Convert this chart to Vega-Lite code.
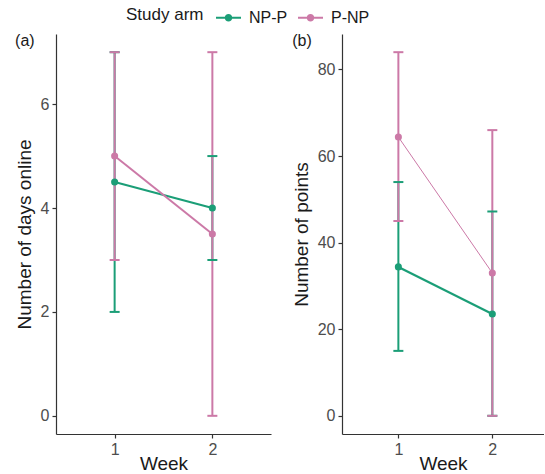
{
  "$schema": "https://vega.github.io/schema/vega-lite/v6.json",
  "background": "white",
  "padding": {"left": 15, "top": 5, "right": 0, "bottom": 0},
  "config": {
    "font": "Liberation Sans",
    "view": {"stroke": null},
    "axis": {
      "grid": false,
      "domainColor": "#333333",
      "domainWidth": 1.2,
      "tickColor": "#333333",
      "tickWidth": 1.2,
      "tickSize": 4,
      "labelColor": "#4D4D4D",
      "labelFontSize": 16,
      "labelPadding": 3,
      "titleFontSize": 19,
      "titleFontWeight": "normal",
      "titleColor": "#1A1A1A"
    }
  },
  "datasets": {
    "days": [
      {"week": 1, "arm": "NP-P", "value": 4.5, "lo": 2, "hi": 7},
      {"week": 2, "arm": "NP-P", "value": 4, "lo": 3, "hi": 5},
      {"week": 1, "arm": "P-NP", "value": 5, "lo": 3, "hi": 7},
      {"week": 2, "arm": "P-NP", "value": 3.5, "lo": 0, "hi": 7}
    ],
    "points": [
      {"week": 1, "arm": "NP-P", "value": 34.4, "lo": 15, "hi": 54},
      {"week": 2, "arm": "NP-P", "value": 23.5, "lo": 0, "hi": 47.2},
      {"week": 1, "arm": "P-NP", "value": 64.4, "lo": 45, "hi": 84},
      {"week": 2, "arm": "P-NP", "value": 33, "lo": 0, "hi": 66}
    ]
  },
  "spacing": 21,
  "hconcat": [
    {
      "width": 215,
      "height": 400,
      "data": {"name": "days"},
      "title": {"text": "(a)", "anchor": "start", "frame": "bounds", "fontSize": 16, "fontWeight": "normal", "color": "#1A1A1A", "offset": -15},
      "encoding": {
        "x": {"field": "week", "type": "quantitative", "scale": {"domain": [0.4, 2.6], "nice": false, "zero": false}, "axis": {"values": [1, 2], "format": "d", "title": "Week", "titlePadding": -3}},
        "color": {
          "field": "arm", "type": "nominal",
          "scale": {"domain": ["NP-P", "P-NP"], "range": ["#1B9E77", "#CC79A7"]},
          "legend": {
            "title": "Study arm",
            "orient": "none",
            "legendX": 70,
            "legendY": -29,
            "direction": "horizontal",
            "titleOrient": "left",
            "titleFontSize": 17,
            "titleFontWeight": "normal",
            "titleColor": "#1A1A1A",
            "titlePadding": 12,
            "labelFontSize": 16,
            "labelColor": "#1A1A1A",
            "labelOffset": 8,
            "columnPadding": 10,
            "symbolType": "M-1,-0.08H1V0.08H-1Z M0.3,0A0.3,0.3,0,1,1,-0.3,0A0.3,0.3,0,1,1,0.3,0Z",
            "symbolSize": 625,
            "symbolStrokeWidth": 0,
            "encode": {"symbols": {"update": {"fill": {"scale": "color", "field": "value"}, "fillOpacity": {"value": 1}, "strokeWidth": {"value": 0}}}}
          }
        }
      },
      "layer": [
        {"mark": {"type": "rule", "strokeWidth": 2},
         "encoding": {"y": {"field": "lo", "type": "quantitative", "scale": {"domain": [-0.35, 7.35], "nice": false, "zero": false}, "axis": {"values": [0, 2, 4, 6], "title": "Number of days online", "titlePadding": 6}}, "y2": {"field": "hi"}}},
        {"mark": {"type": "tick", "orient": "horizontal", "size": 10, "thickness": 2, "opacity": 1},
         "encoding": {"y": {"field": "lo", "type": "quantitative", "title": "Number of days online"}}},
        {"mark": {"type": "tick", "orient": "horizontal", "size": 10, "thickness": 2, "opacity": 1},
         "encoding": {"y": {"field": "hi", "type": "quantitative", "title": "Number of days online"}}},
        {"mark": {"type": "line", "strokeWidth": 2},
         "encoding": {"y": {"field": "value", "type": "quantitative", "title": "Number of days online"}}},
        {"mark": {"type": "point", "filled": true, "size": 50, "opacity": 1},
         "encoding": {"y": {"field": "value", "type": "quantitative", "title": "Number of days online"}}}
      ]
    },
    {
      "width": 202,
      "height": 400,
      "data": {"name": "points"},
      "title": {"text": "(b)", "anchor": "start", "frame": "bounds", "fontSize": 16, "fontWeight": "normal", "color": "#1A1A1A", "offset": -15},
      "encoding": {
        "x": {"field": "week", "type": "quantitative", "scale": {"domain": [0.4, 2.55], "nice": false, "zero": false}, "axis": {"values": [1, 2], "format": "d", "title": "Week", "titlePadding": -3}},
        "color": {"field": "arm", "type": "nominal"}
      },
      "layer": [
        {"mark": {"type": "rule", "strokeWidth": 2},
         "encoding": {"y": {"field": "lo", "type": "quantitative", "scale": {"domain": [-4.2, 88.2], "nice": false, "zero": false}, "axis": {"values": [0, 20, 40, 60, 80], "title": "Number of points", "titlePadding": 6}}, "y2": {"field": "hi"}}},
        {"mark": {"type": "tick", "orient": "horizontal", "size": 10, "thickness": 2, "opacity": 1},
         "encoding": {"y": {"field": "lo", "type": "quantitative", "title": "Number of points"}}},
        {"mark": {"type": "tick", "orient": "horizontal", "size": 10, "thickness": 2, "opacity": 1},
         "encoding": {"y": {"field": "hi", "type": "quantitative", "title": "Number of points"}}},
        {"transform": [{"filter": "datum.arm == 'NP-P'"}],
         "mark": {"type": "line", "strokeWidth": 2.2},
         "encoding": {"y": {"field": "value", "type": "quantitative", "title": "Number of points"}}},
        {"transform": [{"filter": "datum.arm == 'P-NP'"}],
         "mark": {"type": "line", "strokeWidth": 1},
         "encoding": {"y": {"field": "value", "type": "quantitative", "title": "Number of points"}}},
        {"mark": {"type": "point", "filled": true, "size": 50, "opacity": 1},
         "encoding": {"y": {"field": "value", "type": "quantitative", "title": "Number of points"}}}
      ]
    }
  ],
  "resolve": {"scale": {"color": "shared"}}
}
